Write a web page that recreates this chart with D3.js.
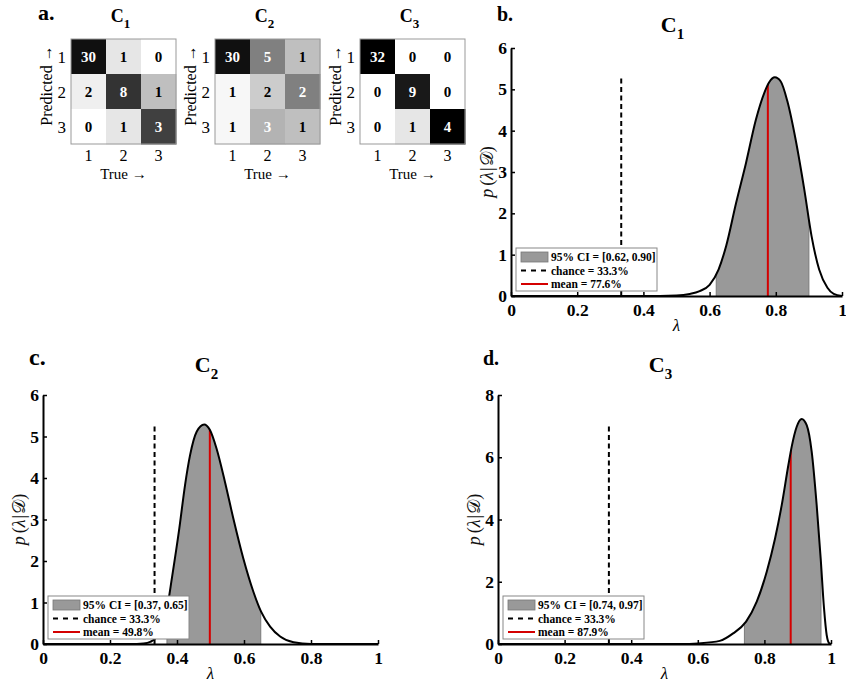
<!DOCTYPE html>
<html>
<head>
<meta charset="utf-8">
<script src="https://cdn.jsdelivr.net/npm/d3@7"></script>
<style>
    body { margin: 0; background: #fff; }
    svg { font-family: "Liberation Serif", "Times New Roman", serif; }
</style>
</head>
<body>
<div id="chart"></div>
<script>

// confusion matrices: rows = predicted class, columns = true class
const classLabels = ["1", "2", "3"];
const confC1 = [[30, 1, 0], [2, 8, 1], [0, 1, 3]];
const confC2 = [[30, 5, 1], [1, 2, 2], [1, 3, 1]];
const confC3 = [[32, 0, 0], [0, 9, 0], [0, 1, 4]];

// posterior densities
const lambdaC1 = [0, 0.45, 0.50, 0.54, 0.57, 0.60, 0.627, 0.65, 0.68, 0.71, 0.74, 0.765, 0.78, 0.797, 0.815, 0.835, 0.86, 0.886, 0.908, 0.931, 0.956, 0.975, 1.0];
const densityC1 = [0, 0, 0.01, 0.05, 0.12, 0.27, 0.64, 1.21, 2.25, 3.22, 4.27, 4.91, 5.17, 5.29, 5.19, 4.71, 3.78, 2.58, 1.45, 0.64, 0.20, 0.05, 0];

const lambdaC2 = [0, 0.28, 0.30, 0.32, 0.34, 0.355, 0.37, 0.385, 0.407, 0.424, 0.439, 0.459, 0.481, 0.498, 0.518, 0.543, 0.568, 0.598, 0.628, 0.651, 0.678, 0.708, 0.748, 0.80, 1.0];
const densityC2 = [0, 0, 0.01, 0.05, 0.18, 0.45, 0.85, 1.6, 2.79, 3.83, 4.55, 5.12, 5.29, 5.16, 4.71, 3.91, 3.03, 2.06, 1.26, 0.78, 0.42, 0.18, 0.04, 0, 0];

const lambdaC3 = [0, 0.55, 0.601, 0.666, 0.706, 0.745, 0.777, 0.807, 0.832, 0.852, 0.872, 0.882, 0.897, 0.912, 0.927, 0.942, 0.957, 0.969, 0.979, 0.987, 0.995, 1.0];
const densityC3 = [0, 0, 0.02, 0.10, 0.34, 0.72, 1.36, 2.32, 3.39, 4.46, 5.75, 6.34, 6.98, 7.23, 7.03, 6.18, 4.46, 2.75, 1.15, 0.29, 0.02, 0];

const ciC1 = [0.62, 0.90], ciC2 = [0.37, 0.65], ciC3 = [0.74, 0.97];
const meanC1 = 0.776, meanC2 = 0.498, meanC3 = 0.879;
const chanceLevel = 0.333;
const chanceTop = [5.27, 5.3, 7.1];   // height of the dashed chance line
const xTicks = [0, 0.2, 0.4, 0.6, 0.8, 1];
const yTicks6 = [0, 1, 2, 3, 4, 5, 6];
const yTicks8 = [0, 2, 4, 6, 8];

const svg = d3.select("#chart").append("svg")
    .attr("width", 846)
    .attr("height", 682);

svg.append("rect").attr("width", 846).attr("height", 682).attr("fill", "#fff");

class ConfusionMatrix {
    constructor(svg, matrix, name, left, top) {
        this.svg = svg;
        this.matrix = matrix;
        this.name = name;
        this.left = left;
        this.top = top;
        this.size = 105;
        this.initVis();
    }

    initVis() {
        let vis = this;

        vis.g = vis.svg.append("g").attr("transform", `translate(${vis.left},${vis.top})`);

        vis.x = d3.scaleBand().domain(classLabels).range([0, vis.size]);
        vis.y = d3.scaleBand().domain(classLabels).range([0, vis.size]);

        // shade each cell by its share of the true-class column
        let colSums = classLabels.map((c, j) => d3.sum(vis.matrix, row => row[j]));
        let cells = [];
        vis.matrix.forEach((row, i) => row.forEach((v, j) => {
            cells.push({row: classLabels[i], col: classLabels[j], value: v, frac: colSums[j] ? v / colSums[j] : 0});
        }));

        vis.g.selectAll(".cell")
            .data(cells)
            .enter()
            .append("rect")
            .attr("class", "cell")
            .attr("x", d => vis.x(d.col))
            .attr("y", d => vis.y(d.row))
            .attr("width", vis.x.bandwidth() + 0.5)
            .attr("height", vis.y.bandwidth() + 0.5)
            .attr("fill", d => {
                let g = Math.round(255 * (1 - d.frac));
                return d3.rgb(g, g, g).toString();
            });

        vis.g.selectAll(".cell-text")
            .data(cells)
            .enter()
            .append("text")
            .attr("class", "cell-text")
            .attr("x", d => vis.x(d.col) + vis.x.bandwidth() / 2)
            .attr("y", d => vis.y(d.row) + vis.y.bandwidth() / 2 + 5)
            .attr("text-anchor", "middle")
            .attr("font-size", 15)
            .attr("font-weight", "bold")
            .attr("fill", d => d.frac > 0.28 ? "#fff" : "#000")
            .text(d => d.value);

        vis.g.append("rect")
            .attr("width", vis.size)
            .attr("height", vis.size)
            .attr("fill", "none")
            .attr("stroke", "#999")
            .attr("stroke-width", 1);

        // row / column labels
        vis.g.selectAll(".row-label")
            .data(classLabels)
            .enter()
            .append("text")
            .attr("x", -5)
            .attr("y", d => vis.y(d) + vis.y.bandwidth() / 2 + 6)
            .attr("text-anchor", "end")
            .attr("font-size", 17)
            .text(d => d);

        vis.g.selectAll(".col-label")
            .data(classLabels)
            .enter()
            .append("text")
            .attr("x", d => vis.x(d) + vis.x.bandwidth() / 2)
            .attr("y", vis.size + 17)
            .attr("text-anchor", "middle")
            .attr("font-size", 16)
            .text(d => d);

        vis.g.append("text")
            .attr("x", vis.size / 2)
            .attr("y", vis.size + 35)
            .attr("text-anchor", "middle")
            .attr("font-size", 15)
            .text("True \u2192");

        vis.g.append("text")
            .attr("transform", `translate(-19,${vis.size / 2 - 6}) rotate(-90)`)
            .attr("text-anchor", "middle")
            .attr("font-size", 16)
            .text("Predicted \u2192");

        let title = vis.g.append("text")
            .attr("x", vis.size / 2 - 3)
            .attr("y", -17)
            .attr("text-anchor", "middle")
            .attr("font-weight", "bold")
            .attr("font-size", 18);
        title.append("tspan").text("C");
        title.append("tspan").attr("font-size", 13).attr("dy", 6).text(vis.name);
    }
}

class PosteriorPlot {
    constructor(svg, cfg) {
        this.svg = svg;
        this.cfg = cfg;
        this.initVis();
    }

    initVis() {
        let vis = this;
        let c = vis.cfg;

        vis.x = d3.scaleLinear().domain([0, 1]).range([c.left, c.right]);
        vis.y = d3.scaleLinear().domain([0, c.yMax]).range([c.bottom, c.top]);

        vis.points = c.lambda.map((l, i) => ({l: l, p: c.density[i]}));

        vis.area = d3.area()
            .x(d => vis.x(d.l))
            .y0(vis.y(0))
            .y1(d => vis.y(d.p))
            .curve(d3.curveMonotoneX);

        vis.line = d3.line()
            .x(d => vis.x(d.l))
            .y(d => vis.y(d.p))
            .curve(d3.curveMonotoneX);

        let defs = vis.svg.append("defs");
        defs.append("clipPath").attr("id", "ci-" + c.id)
            .append("rect")
            .attr("x", vis.x(c.ci[0]))
            .attr("y", c.top - 10)
            .attr("width", vis.x(c.ci[1]) - vis.x(c.ci[0]))
            .attr("height", c.bottom - c.top + 10);
        defs.append("clipPath").attr("id", "under-" + c.id)
            .append("path")
            .attr("d", vis.area(vis.points));

        // 95% credible interval
        vis.svg.append("path")
            .attr("d", vis.area(vis.points))
            .attr("fill", "#999")
            .attr("clip-path", `url(#ci-${c.id})`);

        let under = vis.svg.append("g").attr("clip-path", `url(#under-${c.id})`);
        under.selectAll(".ci-edge")
            .data(c.ci)
            .enter()
            .append("line")
            .attr("x1", d => vis.x(d)).attr("x2", d => vis.x(d))
            .attr("y1", vis.y(0)).attr("y2", c.top)
            .attr("stroke", "#7a7a7a")
            .attr("stroke-width", 1);

        // posterior mean
        under.append("line")
            .attr("x1", vis.x(c.mean)).attr("x2", vis.x(c.mean))
            .attr("y1", vis.y(0)).attr("y2", c.top)
            .attr("stroke", "#d40000")
            .attr("stroke-width", 2);

        vis.svg.append("path")
            .attr("d", vis.line(vis.points))
            .attr("fill", "none")
            .attr("stroke", "#000")
            .attr("stroke-width", 2);

        // chance level
        vis.svg.append("line")
            .attr("x1", vis.x(chanceLevel)).attr("x2", vis.x(chanceLevel))
            .attr("y1", vis.y(0)).attr("y2", vis.y(c.chanceTop))
            .attr("stroke", "#000")
            .attr("stroke-width", 2)
            .attr("stroke-dasharray", "5,3.5");

        // axes, ticks pointing inward like matlab
        let xAxis = d3.axisBottom(vis.x)
            .tickValues(xTicks)
            .tickSizeInner(-4).tickSizeOuter(0).tickPadding(8)
            .tickFormat(d => (d === 0 || d === 1) ? d : d.toFixed(1));
        let yAxis = d3.axisLeft(vis.y)
            .tickValues(c.yTicks)
            .tickSizeInner(-4).tickSizeOuter(0).tickPadding(4)
            .tickFormat(d3.format("d"));

        let gx = vis.svg.append("g")
            .attr("transform", `translate(0,${c.bottom})`)
            .call(xAxis);
        let gy = vis.svg.append("g")
            .attr("transform", `translate(${c.left},0)`)
            .call(yAxis);

        [gx, gy].forEach(g => {
            g.select(".domain").attr("stroke-width", 2).attr("stroke", "#000");
            g.selectAll(".tick line").attr("stroke-width", 1.5).attr("stroke", "#000");
            g.selectAll(".tick text")
                .attr("font-family", "Liberation Serif, serif")
                .attr("font-weight", "bold")
                .attr("font-size", 17.5)
                .attr("fill", "#000");
        });

        // labels
        vis.svg.append("text")
            .attr("x", (c.left + c.right) / 2)
            .attr("y", c.bottom + 35)
            .attr("text-anchor", "middle")
            .attr("font-style", "italic")
            .attr("font-size", 17)
            .text("\u03bb");

        let yl = vis.svg.append("text")
            .attr("transform", `translate(${c.left - 18},${(c.top + c.bottom) / 2}) rotate(-90)`)
            .attr("text-anchor", "middle")
            .attr("font-size", 18)
            .attr("fill", "#111");
        yl.append("tspan").attr("font-style", "italic").text("p");
        yl.append("tspan").attr("dx", 3).text("(");
        yl.append("tspan").attr("font-style", "italic").text("\u03bb");
        yl.append("tspan").attr("dx", 1).text("|");
        yl.append("tspan").attr("dx", 1).text("\ud835\udc9f");
        yl.append("tspan").text(")");

        let title = vis.svg.append("text")
            .attr("x", (c.left + c.right) / 2 - 4)
            .attr("y", c.titleY)
            .attr("text-anchor", "middle")
            .attr("font-weight", "bold")
            .attr("font-size", 22);
        title.append("tspan").text("C");
        title.append("tspan").attr("font-size", 15).attr("dy", 7).text(c.name);

        vis.drawLegend();
    }

    drawLegend() {
        let vis = this;
        let c = vis.cfg;
        let fmt = d3.format(".2f");

        let lg = vis.svg.append("g")
            .attr("transform", `translate(${c.left + 5},${c.bottom - 48})`);

        lg.append("rect")
            .attr("width", 141).attr("height", 43)
            .attr("fill", "#fff")
            .attr("stroke", "#888")
            .attr("stroke-width", 1);

        lg.append("rect")
            .attr("x", 5).attr("y", 4)
            .attr("width", 27).attr("height", 10)
            .attr("fill", "#999")
            .attr("stroke", "#777")
            .attr("stroke-width", 0.8);

        lg.append("line")
            .attr("x1", 5).attr("x2", 32).attr("y1", 22.5).attr("y2", 22.5)
            .attr("stroke", "#000").attr("stroke-width", 2)
            .attr("stroke-dasharray", "5,5");

        lg.append("line")
            .attr("x1", 5).attr("x2", 32).attr("y1", 36).attr("y2", 36)
            .attr("stroke", "#d40000").attr("stroke-width", 2);

        let labels = [
            `95% CI = [${fmt(c.ci[0])}, ${fmt(c.ci[1])}]`,
            `chance = ${(chanceLevel * 100).toFixed(1)}%`,
            `mean = ${(c.mean * 100).toFixed(1)}%`
        ];
        lg.selectAll(".legend-text")
            .data(labels)
            .enter()
            .append("text")
            .attr("x", 35)
            .attr("y", (d, i) => [13, 26.5, 40][i])
            .attr("font-size", 11.5)
            .attr("font-weight", "bold")
            .text(d => d);
    }
}

// panel a: confusion matrices
new ConfusionMatrix(svg, confC1, "1", 71, 39);
new ConfusionMatrix(svg, confC2, "2", 215, 39);
new ConfusionMatrix(svg, confC3, "3", 360, 39);

// panels b-d: posterior of balanced accuracy
new PosteriorPlot(svg, {id: "b", name: "1", lambda: lambdaC1, density: densityC1, ci: ciC1, mean: meanC1,
    chanceTop: chanceTop[0], yMax: 6, yTicks: yTicks6, left: 511, right: 842, top: 48, bottom: 296, titleY: 32});
new PosteriorPlot(svg, {id: "c", name: "2", lambda: lambdaC2, density: densityC2, ci: ciC2, mean: meanC2,
    chanceTop: chanceTop[1], yMax: 6, yTicks: yTicks6, left: 43, right: 378, top: 395, bottom: 644, titleY: 372});
new PosteriorPlot(svg, {id: "d", name: "3", lambda: lambdaC3, density: densityC3, ci: ciC3, mean: meanC3,
    chanceTop: chanceTop[2], yMax: 8, yTicks: yTicks8, left: 498, right: 831, top: 395, bottom: 644, titleY: 372});

// panel letters
const panelLetters = [
    {t: "a.", x: 38, y: 20, s: 22},
    {t: "b.", x: 497, y: 21, s: 20},
    {t: "c.", x: 29, y: 365, s: 24},
    {t: "d.", x: 483, y: 365, s: 20}
];
svg.selectAll(".panel-letter")
    .data(panelLetters)
    .enter()
    .append("text")
    .attr("x", d => d.x)
    .attr("y", d => d.y)
    .attr("font-weight", "bold")
    .attr("font-size", d => d.s)
    .text(d => d.t);

</script>
</body>
</html>
